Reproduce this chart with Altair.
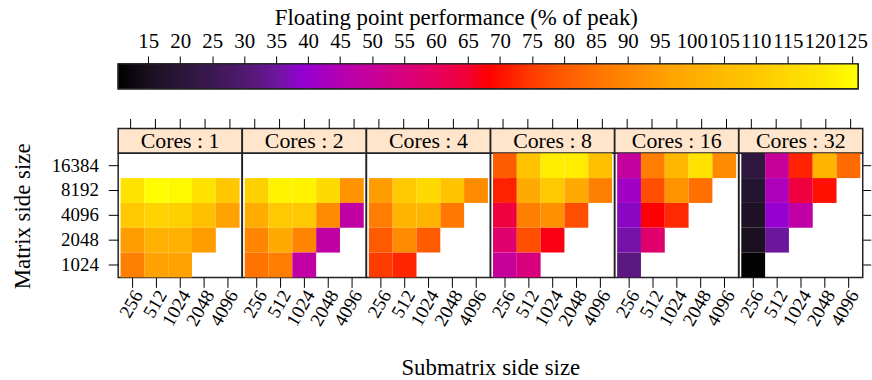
import altair as alt
import pandas as pd

FONT = "Liberation Serif"

CORES = [1, 2, 4, 8, 16, 32]
SUBMATRIX = ["256", "512", "1024", "2048", "4096"]
MATRIX = ["16384", "8192", "4096", "2048", "1024"]

# Floating point performance (% of peak).
# Rows: matrix side size 16384 -> 1024; columns: submatrix side size 256 -> 4096.
# None marks a combination that was not run.
PERF_1 = [
    [None, None, None, None, None],
    [119, 125.5, 124.5, 118.5, 109.5],
    [110, 113.5, 112.5, 107, 96],
    [95, 101, 101, 95, None],
    [88, 96, 96, None, None],
]
PERF_2 = [
    [None, None, None, None, None],
    [112.5, 123, 123, 116, 93],
    [99.5, 110, 110, 91, 48],
    [89.5, 99, 89, 48, None],
    [85.5, 87.5, 48, None, None],
]
PERF_4 = [
    [None, None, None, None, None],
    [95, 110, 116, 108, 91],
    [87.5, 102.5, 102.5, 86.5, None],
    [80, 91, 80.5, None, None],
    [75, 72.5, None, None, None],
]
PERF_8 = [
    [80.5, 108, 121.5, 121.5, 107],
    [72, 99, 110, 99, 88],
    [64, 88, 92, 78, None],
    [57.5, 78, 67, None, None],
    [50, 55, None, None, None],
]
PERF_16 = [
    [49, 87.5, 104, 118.5, 91],
    [41.5, 78, 93, 84.5, None],
    [38, 68, 73, None, None],
    [36, 57.5, None, None, None],
    [32, None, None, None, None],
]
PERF_32 = [
    [21.5, 50, 72, 102.5, 83.5],
    [18.5, 43.5, 64, 70, None],
    [16.5, 39.5, 48, None, None],
    [15, 35, None, None, None],
    [11, None, None, None, None],
]
PERF = {1: PERF_1, 2: PERF_2, 4: PERF_4, 8: PERF_8, 16: PERF_16, 32: PERF_32}

# colour key: value stops and their colours (black - purple - red - orange - yellow)
COLOR_VALUES = [10.3, 15, 20, 25, 30, 35, 39.2, 45, 50, 55, 60, 65, 68.2,
                75, 80, 85, 90, 97.1, 110, 120, 126]
COLOR_HEX = ["#000000", "#1A1020", "#2A1638", "#3C1852", "#501A6E", "#6C169C",
             "#9400D3", "#B400B0", "#C8009A", "#D8007C", "#E60060", "#F20036",
             "#FF0000", "#FF3C00", "#FF5A00", "#FF7200", "#FF8800", "#FFA500",
             "#FFC800", "#FFE600", "#FFFF00"]
KEY_TICKS = [15, 20, 25, 30, 35, 40, 45, 50, 55, 60, 65, 70, 75, 80, 85, 90,
             95, 100, 105, 110, 115, 120, 125]

rows = []
for c in CORES:
    for mat, vals in zip(MATRIX, PERF[c]):
        for sub, v in zip(SUBMATRIX, vals):
            if v is not None:
                rows.append({"cores": c, "sub": sub, "mat": mat, "perf": v})
df = pd.DataFrame(rows)

PANEL_W = 124.67
PANEL_H = 125
STRIP_H = 25
STROKE = "#222222"

color_scale = alt.Scale(domain=COLOR_VALUES, range=COLOR_HEX, interpolate="rgb")


def x_scale():
    return alt.Scale(domain=SUBMATRIX, paddingInner=0, paddingOuter=0.1)


def strip(c):
    # strip label sits over the middle column, i.e. the panel centre
    sdf = pd.DataFrame({"sub": [SUBMATRIX[2]], "label": [f"Cores : {c}"]})
    return alt.Chart(sdf).mark_text(font=FONT, fontSize=22, color="black").encode(
        x=alt.X("sub:N", scale=x_scale(),
                axis=alt.Axis(orient="top", labels=False, tickSize=10,
                              domain=False, title=None)),
        text="label:N",
    ).properties(width=PANEL_W, height=STRIP_H,
                 view=alt.ViewBackground(fill="#FFE5CC", stroke=STROKE,
                                         strokeWidth=1.5))


def panel(i, c):
    d = df[df.cores == c]
    x_axis = dict(orient="bottom", labelAngle=-60, labelAlign="right",
                  labelBaseline="middle", tickSize=10, labelPadding=4,
                  labelOffset=6, domain=False, title=None)
    if i == 2:
        x_axis.update(title="Submatrix side size", titleX=PANEL_W, titleY=98,
                      titleAlign="center", titleBaseline="alphabetic")
    if i == 0:
        y_axis = alt.Axis(orient="left", tickSize=10, labelPadding=10,
                          domain=False, title="Matrix side size",
                          titleAngle=-90, titleX=-89, titleY=63,
                          titleAlign="center", titleBaseline="alphabetic")
    elif i == len(CORES) - 1:
        y_axis = alt.Axis(orient="right", labels=False, tickSize=8,
                          domain=False, title=None)
    else:
        y_axis = None
    return alt.Chart(d).mark_rect().encode(
        x=alt.X("sub:N", scale=x_scale(), axis=alt.Axis(**x_axis)),
        y=alt.Y("mat:N", scale=alt.Scale(domain=MATRIX, paddingInner=0,
                                         paddingOuter=0), axis=y_axis),
        color=alt.Color("perf:Q", scale=color_scale, legend=None),
    ).properties(width=PANEL_W, height=PANEL_H)


strips = alt.hconcat(*[strip(c) for c in CORES], spacing=0, bounds="flush")
panels = alt.hconcat(*[panel(i, c) for i, c in enumerate(CORES)],
                     spacing=0, bounds="flush")
# with flush bounds the nested strip row counts as zero height, so the
# spacing equals the strip height to put the panels right under the strips
lattice = alt.vconcat(strips, panels, spacing=STRIP_H, bounds="flush")

# colour key bar drawn with a gradient matching the heat-map colour scale
lo, hi = COLOR_VALUES[0], COLOR_VALUES[-1]
gradient = alt.LinearGradient(
    gradient="linear",
    stops=[alt.GradientStop(color=col, offset=(v - lo) / (hi - lo))
           for v, col in zip(COLOR_VALUES, COLOR_HEX)],
    x1=0, x2=1, y1=0, y2=0,
)
key_df = pd.DataFrame({"lo": [lo], "hi": [hi]})
key = alt.Chart(key_df).mark_rect(
    fill=gradient, stroke=STROKE, strokeWidth=1.5
).encode(
    x=alt.X("lo:Q", scale=alt.Scale(domain=[lo, hi], nice=False, zero=False),
            axis=alt.Axis(orient="top", values=KEY_TICKS, tickSize=8,
                          labelPadding=4, labelFontSize=21, domain=False,
                          labelFlush=False, labelOverlap=False,
                          title="Floating point performance (% of peak)",
                          titleX=340, titleY=-40, titleAlign="center",
                          titleBaseline="alphabetic")),
    x2="hi:Q",
).properties(width=745, height=25)

chart = alt.vconcat(key, lattice, spacing=40, bounds="flush").properties(
    padding={"left": 11, "top": 4, "right": 0, "bottom": 0}
).configure(
    font=FONT, background="white"
).configure_view(
    stroke=STROKE, strokeWidth=1.5
).configure_axis(
    labelFont=FONT, titleFont=FONT, labelFontSize=19, titleFontSize=23,
    titleFontWeight="normal", labelColor="black", titleColor="black",
    tickColor="black", tickWidth=1,
)

chart.save("out.html", embed_options={"renderer": "svg", "actions": False})
